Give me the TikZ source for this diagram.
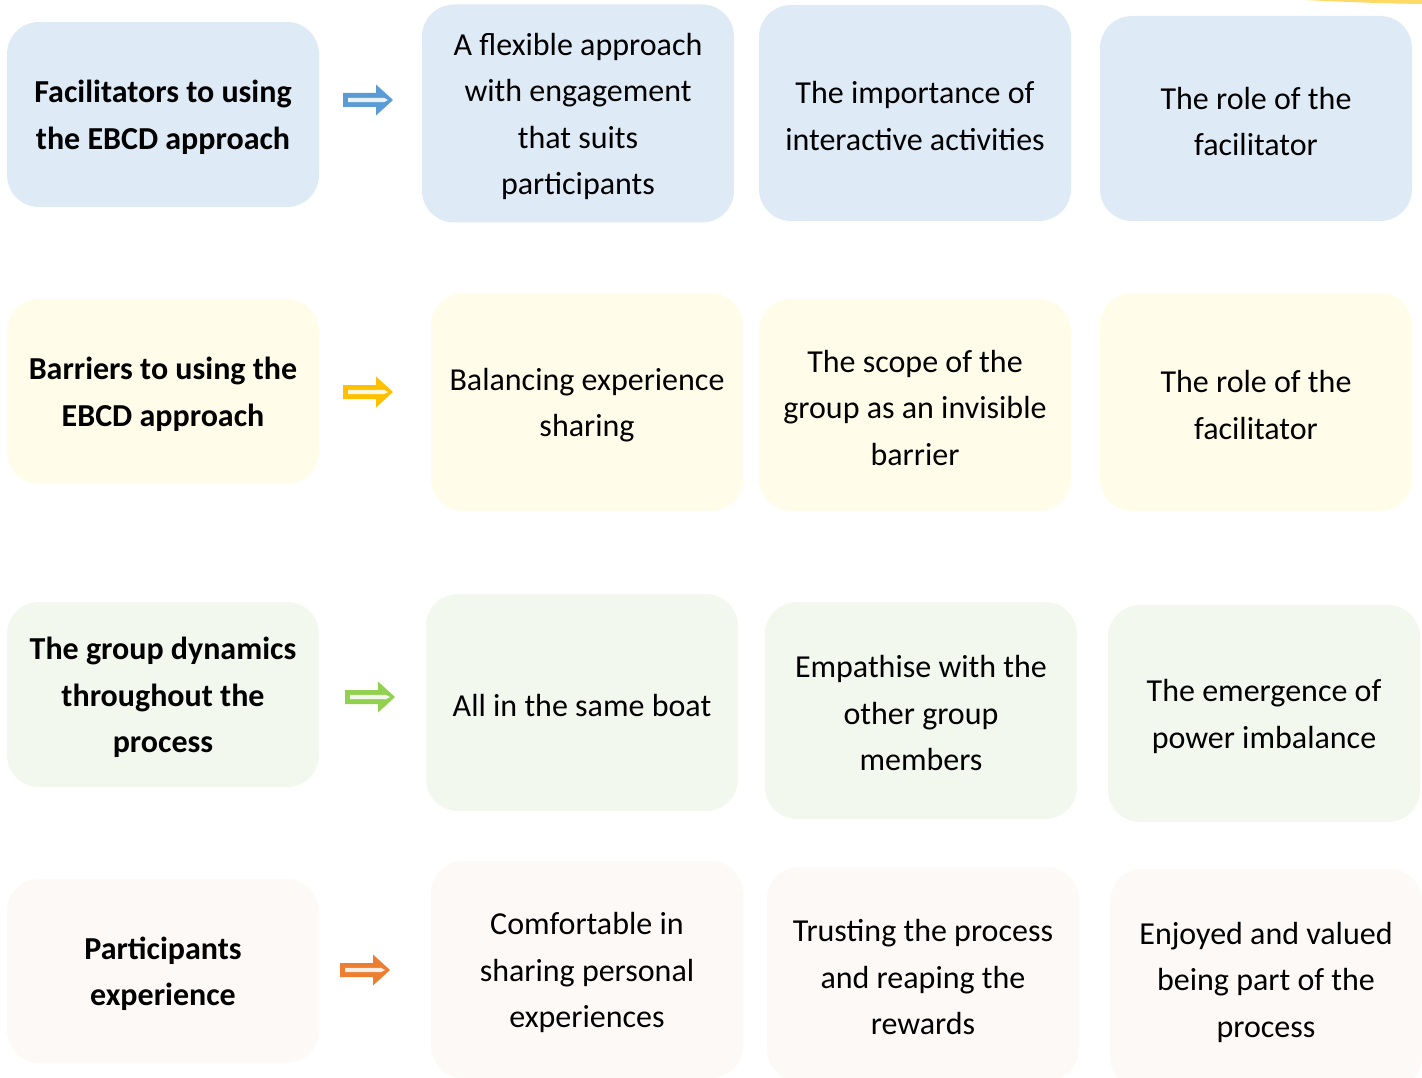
\documentclass[tikz,border=0pt]{standalone}
\usepackage{fontspec}
\setmainfont{Carlito}
\definecolor{fillBlue}{HTML}{DEEAF6}
\definecolor{fillYellow}{HTML}{FFFDE9}
\definecolor{fillGreen}{HTML}{F2F8EE}
\definecolor{fillPeach}{HTML}{FDF9F6}
\definecolor{arBlue}{HTML}{5B9BD5}
\definecolor{arYellow}{HTML}{FFC000}
\definecolor{arGreen}{HTML}{92D050}
\definecolor{arOrange}{HTML}{ED7D31}
\definecolor{topYellow}{HTML}{FFD966}
% \cardbox{name}{text style}{fill}{centre}{height}{text}
\newcommand{\cardbox}[6]{%
  \node[card, fill=#3, minimum height=#5] (#1) at #4 {};
  \node[#2] (#1-text) at ([yshift=-3pt]#1.center) {#6};
}
\begin{document}
\begin{tikzpicture}[x=1pt,y=-1pt,
  card/.style={rounded corners=32pt, minimum width=312pt, inner sep=0pt},
  plaintext/.style={inner sep=0pt, align=center, text=black,
    font=\fontsize{32}{46.5}\selectfont},
  headtext/.style={plaintext, font=\fontsize{32}{46.5}\selectfont\bfseries},
  blockarrow/.pic={
    \fill[#1] (0,-7) -- (33,-7) -- (33,-15.5) -- (50,0) -- (33,15.5) -- (33,7) -- (0,7) -- cycle;
    \fill[#1!12] (5,-2.2) -- (41,-2.2) -- (45,0) -- (41,2.2) -- (5,2.2) -- cycle;
  }]
\useasboundingbox (0,0) rectangle (1422,1078);

% thin yellow sliver at the top edge
\fill[topYellow] (1305,0) -- (1422,0) -- (1422,4) .. controls (1385,3.5) and (1345,2) .. (1305,0) -- cycle;

% row 1: facilitators
\cardbox{l1}{headtext}{fillBlue}{(163,114.5)}{185pt}{Facilitators to using\\the EBCD approach}
\pic (a1) at (343,100) {blockarrow=arBlue};
\cardbox{b11}{plaintext}{fillBlue}{(578,113.5)}{218pt}{A flexible approach\\with engagement\\that suits\\participants}
\cardbox{b12}{plaintext}{fillBlue}{(915,113)}{216pt}{The importance of\\interactive activities}
\cardbox{b13}{plaintext}{fillBlue}{(1256,118.5)}{205pt}{The role of the\\facilitator}

% row 2: barriers
\cardbox{l2}{headtext}{fillYellow}{(163,391.5)}{185pt}{Barriers to using the\\EBCD approach}
\pic (a2) at (343,392) {blockarrow=arYellow};
\cardbox{b21}{plaintext}{fillYellow}{(587,402)}{218pt}{Balancing experience\\sharing}
\cardbox{b22}{plaintext}{fillYellow}{(915,405)}{212pt}{The scope of the\\group as an invisible\\barrier}
\cardbox{b23}{plaintext}{fillYellow}{(1256,402)}{218pt}{The role of the\\facilitator}

% row 3: group dynamics
\cardbox{l3}{headtext}{fillGreen}{(163,694.5)}{185pt}{The group dynamics\\throughout the\\process}
\pic (a3) at (345,697) {blockarrow=arGreen};
\cardbox{b31}{plaintext}{fillGreen}{(582,702.5)}{217pt}{All in the same boat}
\cardbox{b32}{plaintext}{fillGreen}{(921,710.5)}{217pt}{Empathise with the\\other group\\members}
\cardbox{b33}{plaintext}{fillGreen}{(1264,713.5)}{217pt}{The emergence of\\power imbalance}

% row 4: participants experience
\cardbox{l4}{headtext}{fillPeach}{(163,971)}{184pt}{Participants\\experience}
\pic (a4) at (340,970) {blockarrow=arOrange};
\cardbox{b41}{plaintext}{fillPeach}{(587,969.5)}{217pt}{Comfortable in\\sharing personal\\experiences}
\cardbox{b42}{plaintext}{fillPeach}{(923,974)}{214pt}{Trusting the process\\and reaping the\\rewards}
\cardbox{b43}{plaintext}{fillPeach}{(1266,979)}{220pt}{Enjoyed and valued\\being part of the\\process}
\end{tikzpicture}
\end{document}
